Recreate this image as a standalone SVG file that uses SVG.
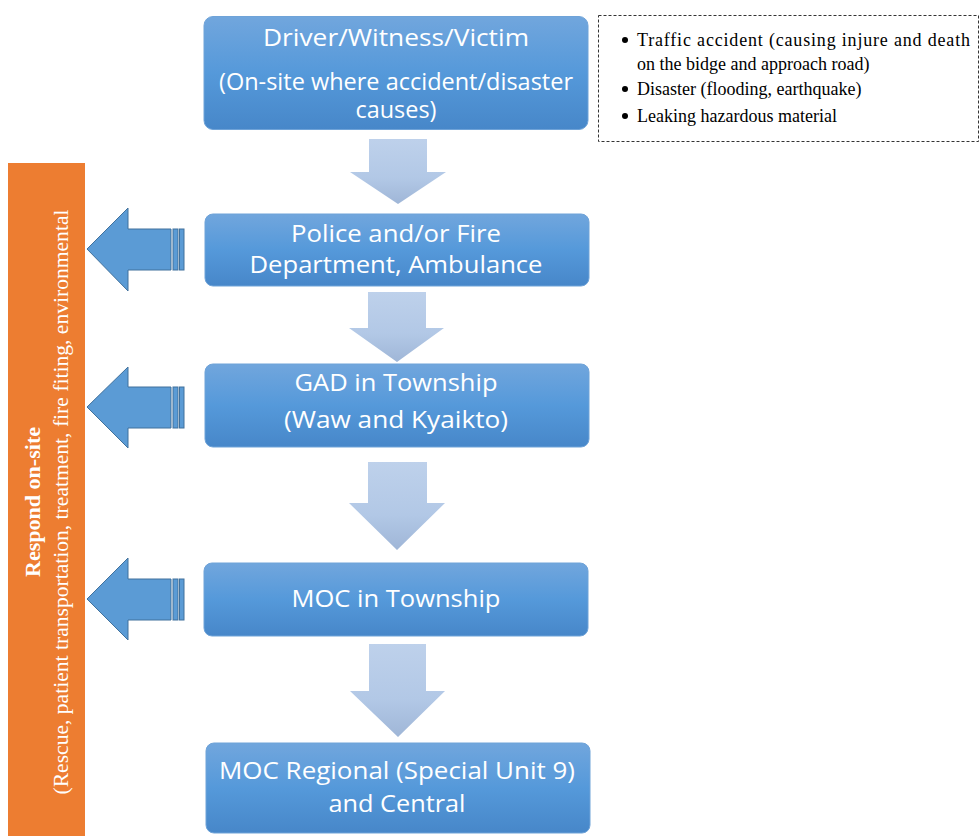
<svg xmlns="http://www.w3.org/2000/svg" width="980" height="836" viewBox="0 0 980 836">
<defs>
<linearGradient id="gBox" x1="0" y1="0" x2="0" y2="1">
<stop offset="0" stop-color="#71a6dd"/>
<stop offset="0.5" stop-color="#5599da"/>
<stop offset="1" stop-color="#4787c9"/>
</linearGradient>
<linearGradient id="gDown" x1="0" y1="0" x2="0" y2="1">
<stop offset="0" stop-color="#bed1eb"/>
<stop offset="0.6" stop-color="#b2c8e6"/>
<stop offset="1" stop-color="#9fb6d7"/>
</linearGradient>
<style>
.box{fill:url(#gBox);stroke:#6fa3d8;stroke-width:1}
.bt{font-family:"Open Sans","Noto Sans","Liberation Sans",sans-serif;font-size:24px;fill:#fff;text-anchor:middle}
.down{fill:url(#gDown)}
.left{fill:#5b9bd5;stroke:#41719c;stroke-width:1}
.note{font-family:"Liberation Serif","Times New Roman",serif;font-size:18px;fill:#000}
.side{font-family:"Liberation Serif","Times New Roman",serif;font-size:21px;fill:#fff;text-anchor:middle}
</style>
</defs>
<rect width="980" height="836" fill="#fff"/>

<g id="respond-bar">
<rect x="8" y="163" width="77" height="673" fill="#ed7d31"/>
<g transform="translate(0,502) rotate(-90)">
<text class="side" x="0" y="40" font-weight="bold" textLength="150" lengthAdjust="spacingAndGlyphs">Respond on-site</text>
<text class="side" x="0" y="68" textLength="585" lengthAdjust="spacingAndGlyphs">(Rescue, patient transportation, treatment, fire fiting, environmental</text>
</g>
</g>

<g id="note">
<rect x="598.5" y="15.5" width="380" height="126" fill="#fff" stroke="#333" stroke-width="1" stroke-dasharray="3,2"/>
<circle cx="625" cy="40" r="3" fill="#000"/>
<circle cx="625" cy="89" r="3" fill="#000"/>
<circle cx="625" cy="116" r="3" fill="#000"/>
<text class="note" x="637" y="46" textLength="333" lengthAdjust="spacing">Traffic accident (causing injure and death</text>
<text class="note" x="637" y="70">on the bidge and approach road)</text>
<text class="note" x="637" y="95">Disaster (flooding, earthquake)</text>
<text class="note" x="637" y="122">Leaking hazardous material</text>
</g>

<g id="n1">
<rect class="box" x="204" y="16.5" width="384" height="113" rx="9"/>
<text class="bt" x="396" y="46" textLength="266" lengthAdjust="spacingAndGlyphs">Driver/Witness/Victim</text>
<text class="bt" x="396" y="90" textLength="354" lengthAdjust="spacingAndGlyphs">(On-site where accident/disaster</text>
<text class="bt" x="396" y="118" textLength="81" lengthAdjust="spacingAndGlyphs">causes)</text>
</g>

<g id="n2">
<rect class="box" x="205" y="214" width="384" height="72" rx="8"/>
<text class="bt" x="396" y="242" textLength="210" lengthAdjust="spacingAndGlyphs">Police and/or Fire</text>
<text class="bt" x="396" y="273" textLength="293" lengthAdjust="spacingAndGlyphs">Department, Ambulance</text>
</g>

<g id="n3">
<rect class="box" x="205" y="364" width="384" height="83" rx="8"/>
<text class="bt" x="396" y="391" textLength="203" lengthAdjust="spacingAndGlyphs">GAD in Township</text>
<text class="bt" x="396" y="428" textLength="224" lengthAdjust="spacingAndGlyphs">(Waw and Kyaikto)</text>
</g>

<g id="n4">
<rect class="box" x="204" y="563" width="384" height="73" rx="8"/>
<text class="bt" x="396" y="607" textLength="209" lengthAdjust="spacingAndGlyphs">MOC in Township</text>
</g>

<g id="n5">
<rect class="box" x="206" y="743" width="384" height="90" rx="8"/>
<text class="bt" x="397" y="779" textLength="356" lengthAdjust="spacingAndGlyphs">MOC Regional (Special Unit 9)</text>
<text class="bt" x="397" y="812" textLength="137" lengthAdjust="spacingAndGlyphs">and Central</text>
</g>

<g id="connectors">
<polygon class="down" points="369,139 427,139 427,172 446,172 398,204 350,172 369,172"/>
<polygon class="down" points="368,292 426,292 426,328 444,328 397,362 349,328 368,328"/>
<polygon class="down" points="368,462 427,462 427,503 445,503 397,550 349,503 368,503"/>
<polygon class="down" points="369,644 426,644 426,691 445,691 398,737 350,691 369,691"/>

<g>
<polygon class="left" points="87,249 128,208 128,229 171,229 171,270 128,270 128,291"/>
<rect class="left" x="173" y="229" width="5" height="41"/>
<rect class="left" x="179.5" y="229" width="4.5" height="41"/>
</g>
<g>
<polygon class="left" points="87,407 128,367 128,387 171,387 171,428 128,428 128,448"/>
<rect class="left" x="173" y="387" width="5" height="41"/>
<rect class="left" x="179.5" y="387" width="4.5" height="41"/>
</g>
<g>
<polygon class="left" points="87,599 128,558 128,579 171,579 171,620 128,620 128,640"/>
<rect class="left" x="173" y="579" width="5" height="41"/>
<rect class="left" x="179.5" y="579" width="4.5" height="41"/>
</g>
</g>
</svg>
